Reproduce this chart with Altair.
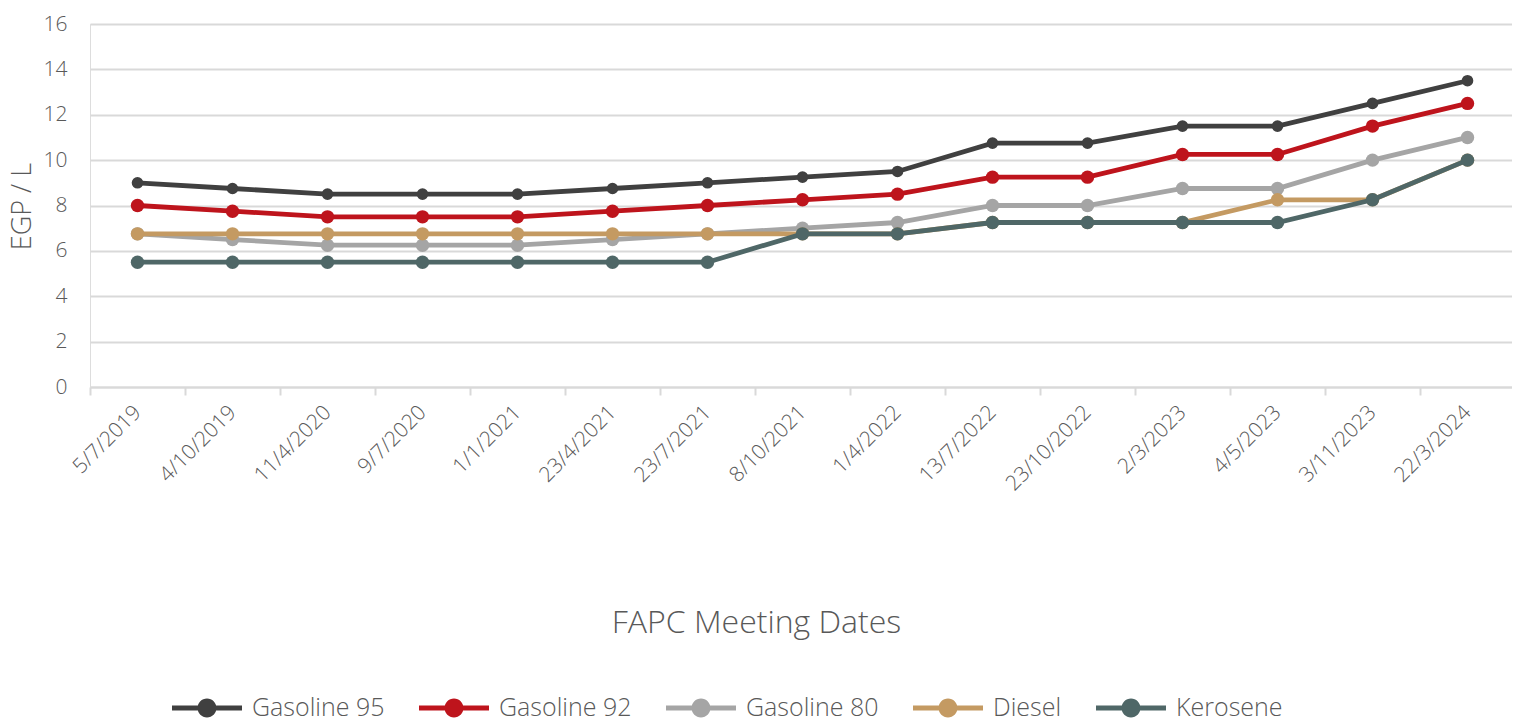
import altair as alt
import pandas as pd

dates = ["5/7/2019", "4/10/2019", "11/4/2020", "9/7/2020", "1/1/2021", "23/4/2021",
         "23/7/2021", "8/10/2021", "1/4/2022", "13/7/2022", "23/10/2022", "2/3/2023",
         "4/5/2023", "3/11/2023", "22/3/2024"]

gasoline95 = [9, 8.75, 8.5, 8.5, 8.5, 8.75, 9, 9.25, 9.5, 10.75, 10.75, 11.5, 11.5, 12.5, 13.5]
gasoline92 = [8, 7.75, 7.5, 7.5, 7.5, 7.75, 8, 8.25, 8.5, 9.25, 9.25, 10.25, 10.25, 11.5, 12.5]
gasoline80 = [6.75, 6.5, 6.25, 6.25, 6.25, 6.5, 6.75, 7, 7.25, 8, 8, 8.75, 8.75, 10, 11]
diesel = [6.75, 6.75, 6.75, 6.75, 6.75, 6.75, 6.75, 6.75, 6.75, 7.25, 7.25, 7.25, 8.25, 8.25, 10]
kerosene = [5.5, 5.5, 5.5, 5.5, 5.5, 5.5, 5.5, 6.75, 6.75, 7.25, 7.25, 7.25, 7.25, 8.25, 10]

series_names = ["Gasoline 95", "Gasoline 92", "Gasoline 80", "Diesel", "Kerosene"]
series_values = [gasoline95, gasoline92, gasoline80, diesel, kerosene]
colors = ["#404040", "#BE141C", "#A5A5A5", "#C49A62", "#4F6767"]
point_sizes = [135, 180, 180, 180, 180]

rows = []
for name, vals in zip(series_names, series_values):
    for d, v in zip(dates, vals):
        rows.append({"date": d, "fuel": name, "price": v})
df = pd.DataFrame(rows)

FONT = "Open Sans"
TXT = "#595959"

legend_path = ("M-1,-0.07H-0.2V0.07H-1Z "
               "M0.2,-0.07H1V0.07H0.2Z "
               "M-0.27,0A0.27,0.27,0,1,1,0.27,0A0.27,0.27,0,1,1,-0.27,0Z")

cscale = alt.Scale(domain=series_names, range=colors)

fill = alt.Fill(
    "fuel:N", scale=cscale,
    legend=alt.Legend(
        title=None, orient="none", direction="horizontal",
        legendX=82, legendY=649,
        symbolType=legend_path, symbolSize=4900, symbolStrokeWidth=0, symbolOpacity=1,
        labelFont=FONT, labelFontSize=25, labelColor=TXT, labelFontWeight=300,
        labelOffset=10, columnPadding=34,
    ),
)

x = alt.X(
    "date:N", sort=dates, scale=alt.Scale(paddingInner=0, paddingOuter=0),
    axis=alt.Axis(
        title="FAPC Meeting Dates", titleFont=FONT, titleFontSize=32, titleFontWeight=300,
        titleColor=TXT, titleX=666, titleY=235, titleBaseline="middle", titleAlign="center",
        labelAngle=315, labelAlign="right", labelBaseline="middle", labelPadding=14,
        labelFont=FONT, labelFontSize=21, labelColor=TXT, labelFontWeight=300,
        tickBand="extent", tickSize=8, tickColor="#D9D9D9", tickWidth=2,
        domainColor="#D9D9D9", domainWidth=2, grid=False,
    ),
)
y = alt.Y(
    "price:Q", scale=alt.Scale(domain=[0, 16]),
    axis=alt.Axis(
        title="EGP / L", titleFont=FONT, titleFontSize=27, titleFontWeight=300, titleColor=TXT,
        titleX=-68, titleY=182, titleAngle=270, titleBaseline="middle", titleAlign="center",
        values=[0, 2, 4, 6, 8, 10, 12, 14, 16], labelPadding=23,
        labelFont=FONT, labelFontSize=21, labelColor=TXT, labelFontWeight=300,
        ticks=False, domain=False, gridColor="#D9D9D9", gridWidth=2,
    ),
)

base = alt.Chart(df)
layers = []
for name, col, size in zip(series_names, colors, point_sizes):
    sub = base.transform_filter(alt.datum.fuel == name)
    layers.append(sub.mark_line(strokeWidth=4.8, color=col).encode(x=x, y=y))
    layers.append(sub.mark_circle(size=size, opacity=1).encode(x=x, y=y, fill=fill))

chart = alt.layer(*layers).properties(
    width=1425, height=363,
    autosize=alt.AutoSizeParams(type="none"),
    padding={"left": 82, "top": 16, "right": -3, "bottom": 337},
).configure_view(stroke=None).configure(background="white")

chart.save("out.html", embed_options={"renderer": "svg", "actions": False})
